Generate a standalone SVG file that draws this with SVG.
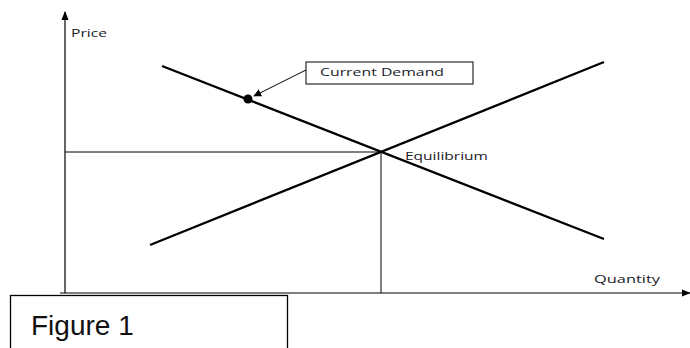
<svg xmlns="http://www.w3.org/2000/svg" width="690" height="348" viewBox="0 0 690 348">
  <style>
    .axis { stroke: #000; stroke-width: 1.2; fill: none; }
    .curve { stroke: #000; stroke-width: 2.3; fill: none; }
    .guide { stroke: #000; stroke-width: 1; fill: none; }
    .lbl { font-family: "Open Sans", "DejaVu Sans", sans-serif; font-size: 10.5px; fill: #1a1a2a; }
    .cap { font-family: "Liberation Sans", Arial, sans-serif; font-size: 28px; fill: #111; }
  </style>
  <defs>
    <marker id="tip" viewBox="0 0 10 10" refX="9" refY="5" markerWidth="8" markerHeight="8" orient="auto" markerUnits="userSpaceOnUse">
      <path d="M0,0 L10,5 L0,10 z" fill="#000"/>
    </marker>
    <marker id="axisTip" viewBox="0 0 10 10" refX="9" refY="5" markerWidth="9" markerHeight="9" orient="auto" markerUnits="userSpaceOnUse">
      <path d="M0,1 L10,5 L0,9 z" fill="#000"/>
    </marker>
  </defs>
  <rect width="690" height="348" fill="#fff"/>

  <g id="connectors">
    <!-- axes -->
    <line class="axis" x1="65" y1="293" x2="65" y2="12" marker-end="url(#axisTip)"/>
    <line class="axis" x1="60" y1="293" x2="690" y2="293" marker-end="url(#axisTip)"/>
    <!-- equilibrium guides -->
    <line class="guide" x1="65" y1="152" x2="381" y2="152"/>
    <line class="guide" x1="381" y1="152" x2="381" y2="293"/>
    <!-- demand and supply -->
    <line class="curve" x1="162" y1="66" x2="604" y2="239"/>
    <line class="curve" x1="150" y1="245" x2="604" y2="62"/>
    <!-- callout pointer -->
    <line class="guide" x1="306" y1="70" x2="254" y2="96" marker-end="url(#tip)"/>
  </g>

  <g id="price-label">
    <text class="lbl" x="71" y="37" textLength="36" lengthAdjust="spacingAndGlyphs">Price</text>
  </g>
  <g id="quantity-label">
    <text class="lbl" x="594" y="283" textLength="66" lengthAdjust="spacingAndGlyphs">Quantity</text>
  </g>
  <g id="equilibrium">
    <text class="lbl" x="405" y="160" textLength="83" lengthAdjust="spacingAndGlyphs">Equilibrium</text>
  </g>
  <g id="current-demand-point">
    <circle cx="248" cy="99" r="4.5" fill="#000"/>
  </g>
  <g id="current-demand-label">
    <rect x="306" y="62" width="167" height="22" fill="#fff" stroke="#000" stroke-width="1"/>
    <text class="lbl" x="320" y="76" textLength="124" lengthAdjust="spacingAndGlyphs">Current Demand</text>
  </g>
  <g id="figure-caption">
    <rect x="10.5" y="295.5" width="277" height="60" fill="#fff" stroke="#000" stroke-width="1.3"/>
    <text class="cap" x="31" y="335">Figure 1</text>
  </g>
</svg>
